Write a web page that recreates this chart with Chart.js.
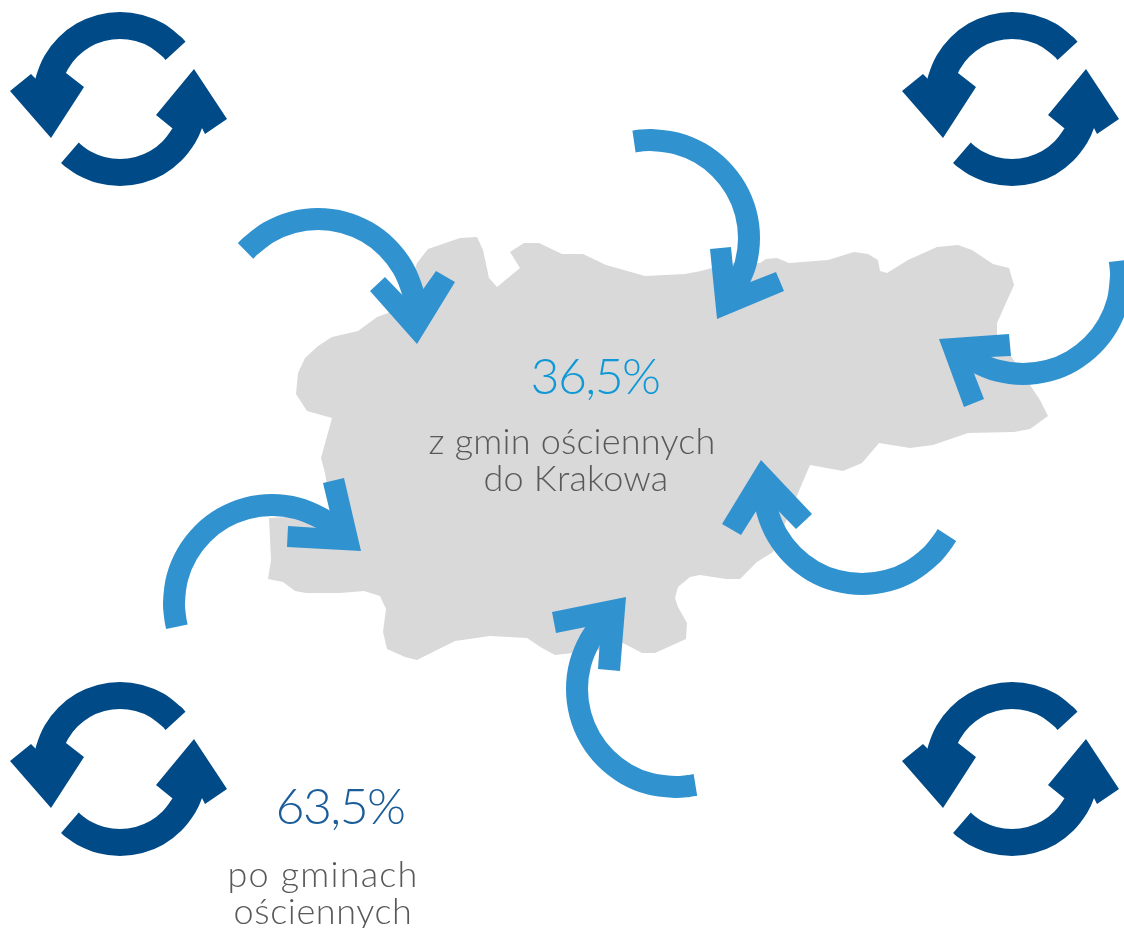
<!DOCTYPE html>
<html lang="pl">
<head>
<meta charset="utf-8">
<title>Dojazdy do Krakowa</title>
<style>
  html, body { margin: 0; padding: 0; background: #fff; }
  canvas { display: block; }
</style>
<script src="https://cdn.jsdelivr.net/npm/chart.js@4/dist/chart.umd.min.js"></script>
</head>
<body>
<canvas id="chart" width="1124" height="928"></canvas>
<script>
// Outline of the city
const cityOutline = [
  [428,249],[460,238],[477,237],[483,250],[489,278],[497,287],[520,268],[510,252],[524,243],[539,243],
  [562,254],[583,254],[606,265],[645,276],[685,274],[701,271],[730,263],[760,263],[766,259],[777,258],
  [789,263],[828,260],[854,252],[868,254],[878,260],[880,271],[887,273],[908,260],[937,247],[958,245],
  [972,250],[993,264],[1009,268],[1014,285],[997,323],[997,335],[1011,356],[1032,388],[1040,400],[1048,416],
  [1030,429],[1014,432],[968,433],[933,445],[910,448],[879,443],[862,463],[843,471],[810,465],[798,493],
  [773,552],[757,562],[740,579],[726,579],[700,575],[690,577],[678,587],[675,598],[678,607],[687,623],
  [686,639],[655,653],[642,653],[623,643],[600,650],[555,655],[542,648],[527,638],[490,636],[455,641],
  [417,660],[405,657],[387,649],[383,632],[386,609],[380,596],[364,591],[340,593],[306,593],[295,591],
  [283,582],[268,579],[271,560],[269,518],[300,516],[331,512],[325,473],[321,458],[332,418],[307,411],
  [296,394],[298,373],[305,358],[318,346],[332,337],[358,331],[377,317],[388,313],[408,290],[417,263],
  [428,249]
];

// Light blue arrows: the curved shaft and the head of each
const arrowShafts = [
  [[245.5,250.9],[249.9,246.5],[269,232.1],[292.6,222.3],[318,219],[343.4,222.3],[367,232.1],[387.3,247.7],[402.9,268],[412.7,291.6],[415.6,308.5]],
  [[634,141.5],[640.8,140.5],[651,140],[676.4,143.3],[700,153.1],[720.3,168.7],[735.9,189],[745.7,212.6],[749,238],[745.7,263.4],[735.9,287],[731.3,294.2]],
  [[1119.8,260.7],[1120.6,267.5],[1121,276],[1117.7,301.4],[1107.9,325],[1092.3,345.3],[1072,360.9],[1048.4,370.7],[1023,374],[997.6,370.7],[974,360.9],[962,352]],
  [[946.9,535],[943.2,540.8],[931.3,555.3],[911,570.9],[887.4,580.7],[862,584],[836.6,580.7],[813,570.9],[792.7,555.3],[777.1,535],[767.3,511.4],[763.5,488]],
  [[695.4,784.9],[688.6,786],[675,787],[649.6,783.7],[626,773.9],[605.7,758.3],[590.1,738],[580.3,714.4],[577,689],[580.3,663.6],[590.1,640],[604,620]],
  [[176.9,626.7],[175.5,620],[174,603],[177.3,577.6],[187.1,554],[202.7,533.7],[223,518.1],[246.6,508.3],[272,505],[297.4,508.3],[321,518.1],[340,531]]
];
const arrowHeads = [
  [[370,291],[385,277],[412,305],[436,271],[455,282],[417,344],[370,291]],
  [[710,249],[731,247],[735,288],[776,272],[784,291],[717,319],[710,249]],
  [[939,339],[1009,334],[1011,356],[968,358],[984,399],[964,407],[939,339]],
  [[761,460],[812,514],[796,529],[765,497],[741,535],[722,524],[761,460]],
  [[552,612],[626,597],[620,671],[598,669],[601,624],[556,633],[552,612]],
  [[323,483],[344,478],[361,551],[287,547],[288,526],[334,529],[323,483]]
];

// Dark blue cycle icon and where its four copies sit
const cycleShafts = [
  [[175.5,50.8],[172,47],[156.8,35.3],[139,28],[120,25.5],[101,28],[83.2,35.3],[68,47],[56.3,62.2],[49,80],[46.8,92.6]],
  [[69.9,152.8],[73.7,156.1],[83.2,162.7],[101,170],[120,172.5],[139,170],[156.8,162.7],[172,151],[183.7,135.8],[189.1,124.1],[192,112]]
];
const cycleHeads = [
  [[10,91],[31,74],[37,80],[66,73],[84,87],[51,138],[10,91]],
  [[194,69],[227,119],[205,134],[202,128],[172,128],[156,115],[194,69]]
];
const cycleOffsetX = [0, 892, 0, 892];
const cycleOffsetY = [0, 0, 670, 670];

// Captions
const labelTexts = ['36,5%', 'z gmin ościennych', 'do Krakowa', '63,5%', 'po gminach', 'ościennych'];
const labelX = [595, 572, 576, 340, 323, 323];
const labelY = [394, 454, 491, 824, 887, 924];
const labelSizes = [50, 36, 36, 50, 36, 36];
const labelSpacing = [-1.6, 0.2, 0.2, -1.6, 1.2, 0.6];
const labelColors = ['#0f98d6', '#595959', '#595959', '#1a5d99', '#595959', '#595959'];

function toPoints(pairs, dx, dy) {
  return pairs.map(p => ({ x: p[0] + (dx || 0), y: p[1] + (dy || 0) }));
}

function shaft(points, color, width) {
  return {
    data: points,
    showLine: true,
    borderColor: color,
    borderWidth: width,
    borderCapStyle: 'butt',
    tension: 0.33,
    pointRadius: 0,
    fill: false
  };
}

function polygon(points, color) {
  return {
    data: points,
    showLine: true,
    borderWidth: 0,
    borderColor: color,
    backgroundColor: color,
    tension: 0,
    pointRadius: 0,
    fill: 'shape'
  };
}

const captionPlugin = {
  id: 'captions',
  afterDatasetsDraw(chart) {
    const ctx = chart.ctx;
    ctx.save();
    ctx.textAlign = 'center';
    ctx.textBaseline = 'alphabetic';
    labelTexts.forEach((text, i) => {
      ctx.font = '300 ' + labelSizes[i] + 'px Lato, sans-serif';
      ctx.letterSpacing = labelSpacing[i] + 'px';
      ctx.fillStyle = labelColors[i];
      ctx.fillText(text, chart.scales.x.getPixelForValue(labelX[i]), chart.scales.y.getPixelForValue(labelY[i]));
    });
    ctx.restore();
  }
};

const datasets = [];
arrowShafts.forEach(s => datasets.push(shaft(toPoints(s), '#3192d0', 22)));
arrowHeads.forEach(h => datasets.push(polygon(toPoints(h), '#3192d0')));
cycleOffsetX.forEach((dx, i) => {
  const dy = cycleOffsetY[i];
  cycleShafts.forEach(s => datasets.push(shaft(toPoints(s, dx, dy), '#004b87', 27)));
  cycleHeads.forEach(h => datasets.push(polygon(toPoints(h, dx, dy), '#004b87')));
});
// last in the list gets drawn first, so the city stays behind the arrows
datasets.push(polygon(toPoints(cityOutline), '#d9d9d9'));

new Chart(document.getElementById('chart'), {
  type: 'scatter',
  data: { datasets: datasets },
  plugins: [captionPlugin],
  options: {
    responsive: false,
    animation: false,
    layout: { padding: 0 },
    plugins: { legend: { display: false }, tooltip: { enabled: false } },
    scales: {
      x: { type: 'linear', min: 0, max: 1124, display: false },
      y: { type: 'linear', min: 0, max: 928, reverse: true, display: false }
    }
  }
});
</script>
</body>
</html>
